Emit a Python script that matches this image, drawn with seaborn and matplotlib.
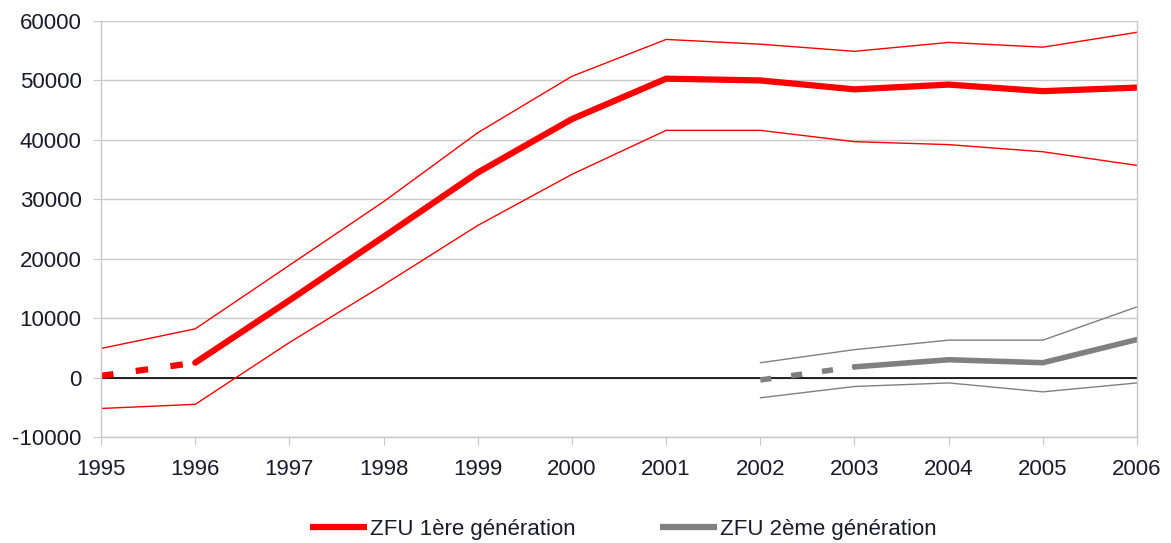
import numpy as np
import pandas as pd
import matplotlib
matplotlib.use('Agg')
import matplotlib.pyplot as plt
import seaborn as sns
from matplotlib.lines import Line2D

# ZFU 1st generation (1995-2006): estimate and confidence bounds
years1 = [1995, 1996, 1997, 1998, 1999, 2000, 2001, 2002, 2003, 2004, 2005, 2006]
zfu1 = [300, 2500, 13000, 23700, 34500, 43500, 50300, 50000, 48500, 49300, 48200, 48800]
zfu1_high = [4900, 8200, 18900, 29600, 41200, 50700, 56900, 56100, 54900, 56400, 55600, 58100]
zfu1_low = [-5200, -4500, 5900, 15600, 25600, 34200, 41600, 41600, 39700, 39200, 38000, 35700]

# ZFU 2nd generation (2002-2006)
years2 = [2002, 2003, 2004, 2005, 2006]
zfu2 = [-400, 1800, 3000, 2500, 6400]
zfu2_high = [2500, 4700, 6300, 6300, 11900]
zfu2_low = [-3400, -1500, -900, -2400, -900]

red = '#ff0000'
grey = '#808080'

sns.set_style('white')
plt.rcParams['font.family'] = ['Liberation Sans', 'DejaVu Sans']
plt.rcParams['axes.unicode_minus'] = False

fig = plt.figure(figsize=(11.71, 5.43), dpi=100)
ax = fig.add_axes([0.0863, 0.1952, 0.8847, 0.7661])

df1 = pd.DataFrame({'year': years1, 'est': zfu1, 'hi': zfu1_high, 'lo': zfu1_low})
df2 = pd.DataFrame({'year': years2, 'est': zfu2, 'hi': zfu2_high, 'lo': zfu2_low})

ax.axhline(0, color='black', lw=1.2, zorder=2)

# bounds
sns.lineplot(data=df1, x='year', y='hi', color=red, lw=1.0, ax=ax)
sns.lineplot(data=df1, x='year', y='lo', color=red, lw=1.0, ax=ax)
sns.lineplot(data=df2, x='year', y='hi', color=grey, lw=1.0, ax=ax)
sns.lineplot(data=df2, x='year', y='lo', color=grey, lw=1.0, ax=ax)

# main estimates: first segment dashed, rest solid
dash = (0, (2, 3.6))
sns.lineplot(data=df1.iloc[:2], x='year', y='est', color=red, lw=4.5, ax=ax,
             linestyle=dash, dash_capstyle='butt')
sns.lineplot(data=df1.iloc[1:], x='year', y='est', color=red, lw=4.5, ax=ax)
sns.lineplot(data=df2.iloc[:2], x='year', y='est', color=grey, lw=4, ax=ax,
             linestyle=dash, dash_capstyle='butt')
sns.lineplot(data=df2.iloc[1:], x='year', y='est', color=grey, lw=4, ax=ax)

ax.set_xlim(1995, 2006)
ax.set_ylim(-10000, 60000)
ax.set_xticks(years1)
ax.set_yticks(np.arange(-10000, 60001, 10000))
ax.set_xlabel('')
ax.set_ylabel('')
ax.grid(axis='y', color='#c8c8c8', lw=1)
ax.set_axisbelow(True)
for side in ['left', 'right', 'bottom']:
    ax.spines[side].set_color('#c8c8c8')
    ax.spines[side].set_linewidth(1)
ax.spines['top'].set_visible(False)
ax.tick_params(axis='both', length=6, color='#c8c8c8', labelsize=16, labelcolor='#1a1a2a',
               left=True, bottom=True)
ax.tick_params(axis='x', pad=10)
ax.tick_params(axis='y', pad=8)

handles = [Line2D([], [], color=red, lw=4.5, solid_capstyle='butt'),
           Line2D([], [], color=grey, lw=4.5, solid_capstyle='butt')]
fig.legend(handles, ['ZFU 1ère génération', 'ZFU 2ème génération'],
           loc='center', bbox_to_anchor=(0.532, 0.025), ncol=2, frameon=False,
           fontsize=16, handlelength=2.6, handletextpad=0.1, columnspacing=3.8,
           labelcolor='#1a1a2a')

fig.savefig('out.png', dpi=100)
